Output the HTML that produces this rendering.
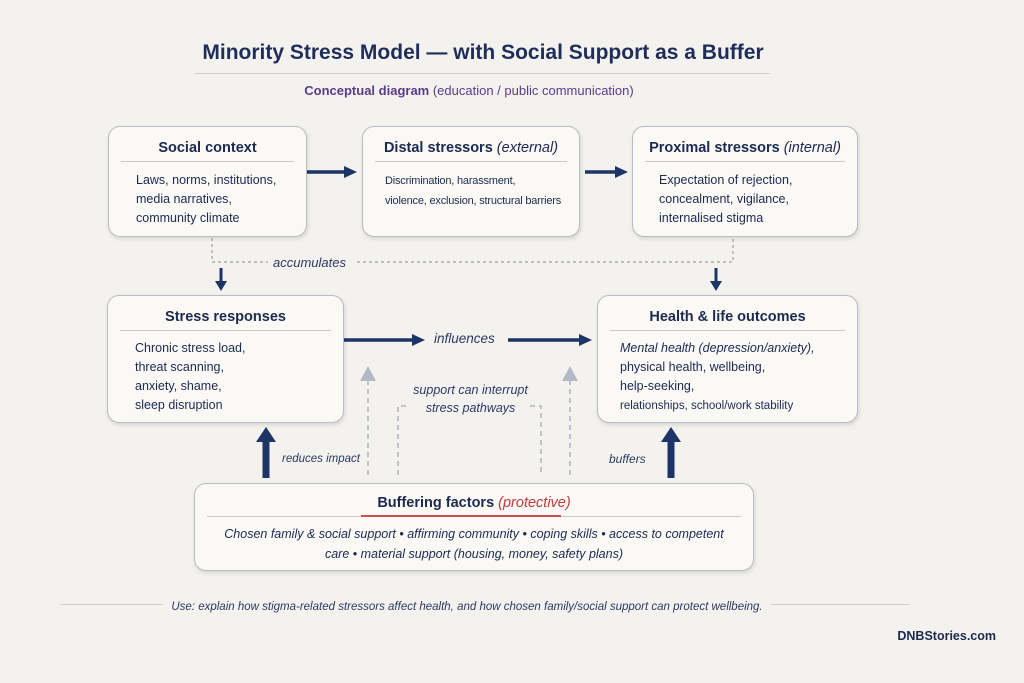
<!DOCTYPE html>
<html><head><meta charset="utf-8"><style>
body{margin:0;width:1024px;height:683px;background:#f4f2ee;font-family:"Liberation Sans",sans-serif;position:relative;overflow:hidden;color:#1c2a50}
.box{position:absolute;background:#faf9f6;border:1.5px solid #b9bcc2;border-radius:12px;box-shadow:1px 2px 4px rgba(0,0,0,.12)}
.h{position:absolute;left:0;right:0;text-align:center;font-weight:bold;font-size:14.5px;color:#1c2a50}
.hr{position:absolute;height:1px;background:#c8c8c8}
.t{position:absolute;font-size:12.5px;line-height:19px;color:#1c2a50}
.abs{position:absolute}
</style></head><body>
<div class="abs" style="left:0;width:966px;top:41px;text-align:center;font-size:21px;font-weight:bold;color:#1f2d5a">Minority Stress Model — with Social Support as a Buffer</div>
<div class="abs" style="left:195px;width:575px;top:73px;height:1px;background:#cfcfcf"></div>
<div class="abs" style="left:0;width:938px;top:83px;text-align:center;font-size:13px;color:#5b3a8c"><b>Conceptual diagram</b> (education / public communication)</div>

<svg class="abs" style="left:0;top:0" width="1024" height="683">
<g stroke="#1c3566" stroke-width="3.5" fill="#1c3566">
<line x1="306" y1="172" x2="345" y2="172"/><path d="M344,166L357,172L344,178z" stroke="none"/>
<line x1="585" y1="172" x2="616" y2="172"/><path d="M615,166L628,172L615,178z" stroke="none"/>
<line x1="343" y1="340" x2="413" y2="340"/><path d="M412,334L425,340L412,346z" stroke="none"/>
<line x1="508" y1="340" x2="580" y2="340"/><path d="M579,334L592,340L579,346z" stroke="none"/>
<line x1="221" y1="268" x2="221" y2="282" stroke-width="3"/><path d="M215,281L221,291L227,281z" stroke="none"/>
<line x1="716" y1="268" x2="716" y2="282" stroke-width="3"/><path d="M710,281L716,291L722,281z" stroke="none"/>
<line x1="266" y1="478" x2="266" y2="440" stroke-width="7"/><path d="M256,442L266,427L276,442z" stroke="none"/>
<line x1="671" y1="478" x2="671" y2="440" stroke-width="7"/><path d="M661,442L671,427L681,442z" stroke="none"/>
</g>
<g fill="none" stroke="#9aa0aa" stroke-width="1.2" stroke-dasharray="3,3">
<path d="M212,238V262H268"/><path d="M357,262H733V238"/>
</g>
<g fill="none" stroke="#b3b7c0" stroke-width="1.6" stroke-dasharray="5,4">
<line x1="368" y1="475" x2="368" y2="380"/><line x1="570" y1="475" x2="570" y2="380"/>
<path d="M398,475V406H410"/><path d="M530,406H541V475"/>
</g>
<path d="M360,381L368,366L376,381z" fill="#b3b9c6"/><path d="M562,381L570,366L578,381z" fill="#b3b9c6"/>
</svg>

<div class="abs" style="left:273px;top:255px;font-size:13px;font-style:italic;color:#2b3a63">accumulates</div>
<div class="abs" style="left:434px;top:331px;font-size:13.5px;font-style:italic;color:#2b3a63">influences</div>
<div class="abs" style="left:398px;top:381px;width:145px;text-align:center;font-size:12.5px;line-height:18px;font-style:italic;color:#2b3a63">support can interrupt<br>stress pathways</div>
<div class="abs" style="left:282px;top:453px;font-size:11.5px;font-style:italic;color:#2b3a63">reduces impact</div>
<div class="abs" style="left:609px;top:452px;font-size:12px;font-style:italic;color:#2b3a63">buffers</div>

<div class="box" style="left:108px;top:126px;width:197px;height:109px">
<div class="h" style="top:13px">Social context</div><div class="hr" style="left:12px;right:12px;top:34px"></div>
<div class="t" style="left:27px;top:44px">Laws, norms, institutions,<br>media narratives,<br>community climate</div></div>

<div class="box" style="left:362px;top:126px;width:216px;height:109px">
<div class="h" style="top:13px">Distal stressors <i style="font-weight:normal">(external)</i></div><div class="hr" style="left:12px;right:12px;top:34px"></div>
<div class="t" style="left:22px;top:44px;font-size:11px;line-height:20px;letter-spacing:-0.2px">Discrimination, harassment,<br>violence, exclusion, structural barriers</div></div>

<div class="box" style="left:632px;top:126px;width:224px;height:109px">
<div class="h" style="top:13px">Proximal stressors <i style="font-weight:normal">(internal)</i></div><div class="hr" style="left:12px;right:12px;top:34px"></div>
<div class="t" style="left:26px;top:44px">Expectation of rejection,<br>concealment, vigilance,<br>internalised stigma</div></div>

<div class="box" style="left:107px;top:295px;width:235px;height:126px">
<div class="h" style="top:13px">Stress responses</div><div class="hr" style="left:12px;right:12px;top:34px"></div>
<div class="t" style="left:27px;top:43px">Chronic stress load,<br>threat scanning,<br>anxiety, shame,<br>sleep disruption</div></div>

<div class="box" style="left:597px;top:295px;width:259px;height:126px">
<div class="h" style="top:13px">Health &amp; life outcomes</div><div class="hr" style="left:12px;right:12px;top:34px"></div>
<div class="t" style="left:22px;top:43px"><i>Mental health (depression/anxiety),</i><br>physical health, wellbeing,<br>help-seeking,<br><span style="font-size:11.5px">relationships, school/work stability</span></div></div>

<div class="box" style="left:194px;top:483px;width:558px;height:86px">
<div class="h" style="top:11px">Buffering factors <i style="font-weight:normal;color:#c0393b">(protective)</i></div>
<div class="hr" style="left:12px;right:12px;top:32px"></div>
<div class="abs" style="left:166px;width:200px;top:31px;height:2px;background:#c9504e"></div>
<div class="t" style="left:0;right:0;top:40px;text-align:center;font-style:italic;line-height:20px">Chosen family &amp; social support • affirming community • coping skills • access to competent<br>care • material support (housing, money, safety plans)</div></div>

<div class="abs" style="left:60px;width:850px;top:604px;height:1px;background:#cfcfcf"></div>
<div class="abs" style="left:0;width:934px;top:597px;text-align:center"><span style="background:#f4f2ee;padding:0 8px;font-size:11.5px;font-style:italic;color:#2b3a63">Use: explain how stigma-related stressors affect health, and how chosen family/social support can protect wellbeing.</span></div>
<div class="abs" style="right:28px;top:629px;font-size:12.5px;font-weight:bold;color:#1c2a50">DNBStories.com</div>
</body></html>
